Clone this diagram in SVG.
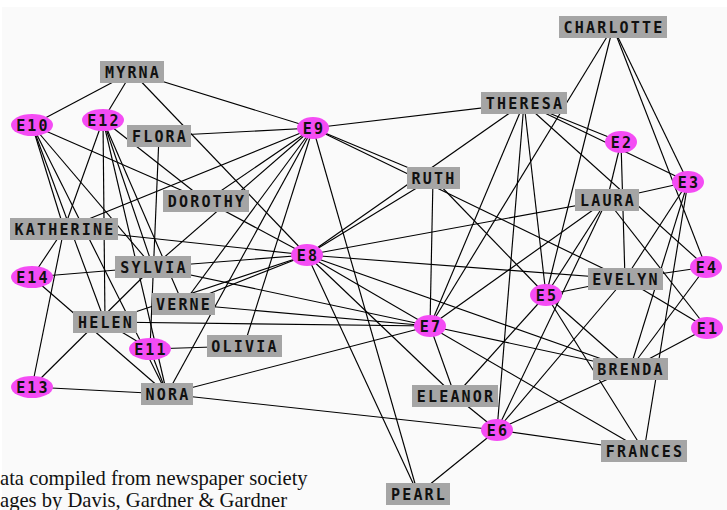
<svg xmlns="http://www.w3.org/2000/svg" width="727" height="510" viewBox="0 0 727 510">
<style>
.w rect{fill:#a5a5a5}
.e ellipse{fill:#f44cf4}
text.l{font-family:"DejaVu Sans Mono",monospace;font-weight:bold;font-size:15px;letter-spacing:2.2px;fill:#111;text-anchor:middle}
#edges line{stroke:#000;stroke-width:1.15}
.cap{font-family:"Liberation Serif","Times New Roman",serif;font-size:20.6px;fill:#111}
</style>
<rect x="0" y="0" width="727" height="510" fill="#fff"/>
<rect x="2" y="7" width="725" height="503" fill="#fafafa"/>
<g id="edges">
<line x1="625" y1="279" x2="707" y2="328"/>
<line x1="625" y1="279" x2="621" y2="142"/>
<line x1="625" y1="279" x2="688" y2="182"/>
<line x1="625" y1="279" x2="706" y2="267"/>
<line x1="625" y1="279" x2="546" y2="295"/>
<line x1="625" y1="279" x2="497" y2="430"/>
<line x1="625" y1="279" x2="307" y2="255"/>
<line x1="625" y1="279" x2="313" y2="128"/>
<line x1="607" y1="200" x2="707" y2="328"/>
<line x1="607" y1="200" x2="621" y2="142"/>
<line x1="607" y1="200" x2="688" y2="182"/>
<line x1="607" y1="200" x2="546" y2="295"/>
<line x1="607" y1="200" x2="497" y2="430"/>
<line x1="607" y1="200" x2="430" y2="326"/>
<line x1="607" y1="200" x2="307" y2="255"/>
<line x1="524" y1="103" x2="621" y2="142"/>
<line x1="524" y1="103" x2="688" y2="182"/>
<line x1="524" y1="103" x2="706" y2="267"/>
<line x1="524" y1="103" x2="546" y2="295"/>
<line x1="524" y1="103" x2="497" y2="430"/>
<line x1="524" y1="103" x2="430" y2="326"/>
<line x1="524" y1="103" x2="307" y2="255"/>
<line x1="524" y1="103" x2="313" y2="128"/>
<line x1="630" y1="369" x2="707" y2="328"/>
<line x1="630" y1="369" x2="688" y2="182"/>
<line x1="630" y1="369" x2="706" y2="267"/>
<line x1="630" y1="369" x2="546" y2="295"/>
<line x1="630" y1="369" x2="497" y2="430"/>
<line x1="630" y1="369" x2="430" y2="326"/>
<line x1="630" y1="369" x2="307" y2="255"/>
<line x1="613" y1="27" x2="688" y2="182"/>
<line x1="613" y1="27" x2="706" y2="267"/>
<line x1="613" y1="27" x2="546" y2="295"/>
<line x1="613" y1="27" x2="430" y2="326"/>
<line x1="644" y1="451" x2="688" y2="182"/>
<line x1="644" y1="451" x2="546" y2="295"/>
<line x1="644" y1="451" x2="497" y2="430"/>
<line x1="644" y1="451" x2="307" y2="255"/>
<line x1="455" y1="396" x2="546" y2="295"/>
<line x1="455" y1="396" x2="497" y2="430"/>
<line x1="455" y1="396" x2="430" y2="326"/>
<line x1="455" y1="396" x2="307" y2="255"/>
<line x1="418" y1="494" x2="497" y2="430"/>
<line x1="418" y1="494" x2="307" y2="255"/>
<line x1="418" y1="494" x2="313" y2="128"/>
<line x1="433" y1="178" x2="546" y2="295"/>
<line x1="433" y1="178" x2="430" y2="326"/>
<line x1="433" y1="178" x2="307" y2="255"/>
<line x1="433" y1="178" x2="313" y2="128"/>
<line x1="183" y1="304" x2="430" y2="326"/>
<line x1="183" y1="304" x2="307" y2="255"/>
<line x1="183" y1="304" x2="313" y2="128"/>
<line x1="183" y1="304" x2="103" y2="120"/>
<line x1="132" y1="72" x2="307" y2="255"/>
<line x1="132" y1="72" x2="313" y2="128"/>
<line x1="132" y1="72" x2="32" y2="125"/>
<line x1="132" y1="72" x2="103" y2="120"/>
<line x1="64" y1="229" x2="307" y2="255"/>
<line x1="64" y1="229" x2="313" y2="128"/>
<line x1="64" y1="229" x2="32" y2="125"/>
<line x1="64" y1="229" x2="103" y2="120"/>
<line x1="64" y1="229" x2="32" y2="387"/>
<line x1="64" y1="229" x2="32" y2="277"/>
<line x1="153" y1="267" x2="430" y2="326"/>
<line x1="153" y1="267" x2="307" y2="255"/>
<line x1="153" y1="267" x2="313" y2="128"/>
<line x1="153" y1="267" x2="32" y2="125"/>
<line x1="153" y1="267" x2="103" y2="120"/>
<line x1="153" y1="267" x2="32" y2="387"/>
<line x1="153" y1="267" x2="32" y2="277"/>
<line x1="167" y1="394" x2="497" y2="430"/>
<line x1="167" y1="394" x2="430" y2="326"/>
<line x1="167" y1="394" x2="313" y2="128"/>
<line x1="167" y1="394" x2="32" y2="125"/>
<line x1="167" y1="394" x2="150" y2="349"/>
<line x1="167" y1="394" x2="103" y2="120"/>
<line x1="167" y1="394" x2="32" y2="387"/>
<line x1="167" y1="394" x2="32" y2="277"/>
<line x1="105" y1="322" x2="430" y2="326"/>
<line x1="105" y1="322" x2="307" y2="255"/>
<line x1="105" y1="322" x2="32" y2="125"/>
<line x1="105" y1="322" x2="150" y2="349"/>
<line x1="105" y1="322" x2="103" y2="120"/>
<line x1="206" y1="201" x2="307" y2="255"/>
<line x1="206" y1="201" x2="313" y2="128"/>
<line x1="206" y1="201" x2="32" y2="125"/>
<line x1="206" y1="201" x2="103" y2="120"/>
<line x1="244" y1="346" x2="313" y2="128"/>
<line x1="244" y1="346" x2="150" y2="349"/>
<line x1="159" y1="136" x2="313" y2="128"/>
<line x1="159" y1="136" x2="150" y2="349"/>
</g>
<g id="CHARLOTTE" class="w"><rect x="559" y="16" width="108" height="22"/><text class="l" x="614" y="32.5">CHARLOTTE</text></g>
<g id="MYRNA" class="w"><rect x="100" y="61" width="64" height="22"/><text class="l" x="133" y="77.5">MYRNA</text></g>
<g id="THERESA" class="w"><rect x="481" y="92" width="86" height="22"/><text class="l" x="525" y="108.5">THERESA</text></g>
<g id="FLORA" class="w"><rect x="127" y="125" width="64" height="22"/><text class="l" x="160" y="141.5">FLORA</text></g>
<g id="RUTH" class="w"><rect x="407" y="167" width="53" height="22"/><text class="l" x="434" y="183.5">RUTH</text></g>
<g id="DOROTHY" class="w"><rect x="163" y="190" width="86" height="22"/><text class="l" x="207" y="206.5">DOROTHY</text></g>
<g id="LAURA" class="w"><rect x="575" y="189" width="64" height="22"/><text class="l" x="608" y="205.5">LAURA</text></g>
<g id="KATHERINE" class="w"><rect x="10" y="218" width="108" height="22"/><text class="l" x="65" y="234.5">KATHERINE</text></g>
<g id="SYLVIA" class="w"><rect x="115" y="256" width="76" height="22"/><text class="l" x="154" y="272.5">SYLVIA</text></g>
<g id="EVELYN" class="w"><rect x="588" y="268" width="75" height="22"/><text class="l" x="626" y="284.5">EVELYN</text></g>
<g id="VERNE" class="w"><rect x="152" y="293" width="63" height="22"/><text class="l" x="184" y="309.5">VERNE</text></g>
<g id="HELEN" class="w"><rect x="73" y="311" width="64" height="22"/><text class="l" x="106" y="327.5">HELEN</text></g>
<g id="OLIVIA" class="w"><rect x="207" y="335" width="75" height="22"/><text class="l" x="245" y="351.5">OLIVIA</text></g>
<g id="NORA" class="w"><rect x="141" y="383" width="52" height="22"/><text class="l" x="168" y="399.5">NORA</text></g>
<g id="BRENDA" class="w"><rect x="593" y="358" width="75" height="22"/><text class="l" x="631" y="374.5">BRENDA</text></g>
<g id="ELEANOR" class="w"><rect x="412" y="385" width="86" height="22"/><text class="l" x="456" y="401.5">ELEANOR</text></g>
<g id="FRANCES" class="w"><rect x="601" y="440" width="86" height="22"/><text class="l" x="645" y="456.5">FRANCES</text></g>
<g id="PEARL" class="w"><rect x="386" y="483" width="64" height="22"/><text class="l" x="419" y="499.5">PEARL</text></g>
<g id="E10" class="e"><ellipse cx="32" cy="125" rx="21" ry="11"/><text class="l" x="33" y="130.5">E10</text></g>
<g id="E12" class="e"><ellipse cx="103" cy="120" rx="21" ry="11"/><text class="l" x="104" y="125.5">E12</text></g>
<g id="E9" class="e"><ellipse cx="313" cy="128" rx="16" ry="11"/><text class="l" x="314" y="133.5">E9</text></g>
<g id="E2" class="e"><ellipse cx="621" cy="142" rx="16" ry="11"/><text class="l" x="622" y="147.5">E2</text></g>
<g id="E3" class="e"><ellipse cx="688" cy="182" rx="16" ry="11"/><text class="l" x="689" y="187.5">E3</text></g>
<g id="E8" class="e"><ellipse cx="307" cy="255" rx="16" ry="11"/><text class="l" x="308" y="260.5">E8</text></g>
<g id="E14" class="e"><ellipse cx="32" cy="277" rx="21" ry="11"/><text class="l" x="33" y="282.5">E14</text></g>
<g id="E4" class="e"><ellipse cx="706" cy="267" rx="16" ry="11"/><text class="l" x="707" y="272.5">E4</text></g>
<g id="E5" class="e"><ellipse cx="546" cy="295" rx="16" ry="11"/><text class="l" x="547" y="300.5">E5</text></g>
<g id="E1" class="e"><ellipse cx="707" cy="328" rx="16" ry="11"/><text class="l" x="708" y="333.5">E1</text></g>
<g id="E7" class="e"><ellipse cx="430" cy="326" rx="16" ry="11"/><text class="l" x="431" y="331.5">E7</text></g>
<g id="E11" class="e"><ellipse cx="150" cy="349" rx="21" ry="11"/><text class="l" x="151" y="354.5">E11</text></g>
<g id="E13" class="e"><ellipse cx="32" cy="387" rx="21" ry="11"/><text class="l" x="33" y="392.5">E13</text></g>
<g id="E6" class="e"><ellipse cx="497" cy="430" rx="16" ry="11"/><text class="l" x="498" y="435.5">E6</text></g>
<text class="cap" x="0" y="485">ata compiled from newspaper society</text>
<text class="cap" x="0" y="507">ages by Davis, Gardner &amp; Gardner</text>
</svg>
